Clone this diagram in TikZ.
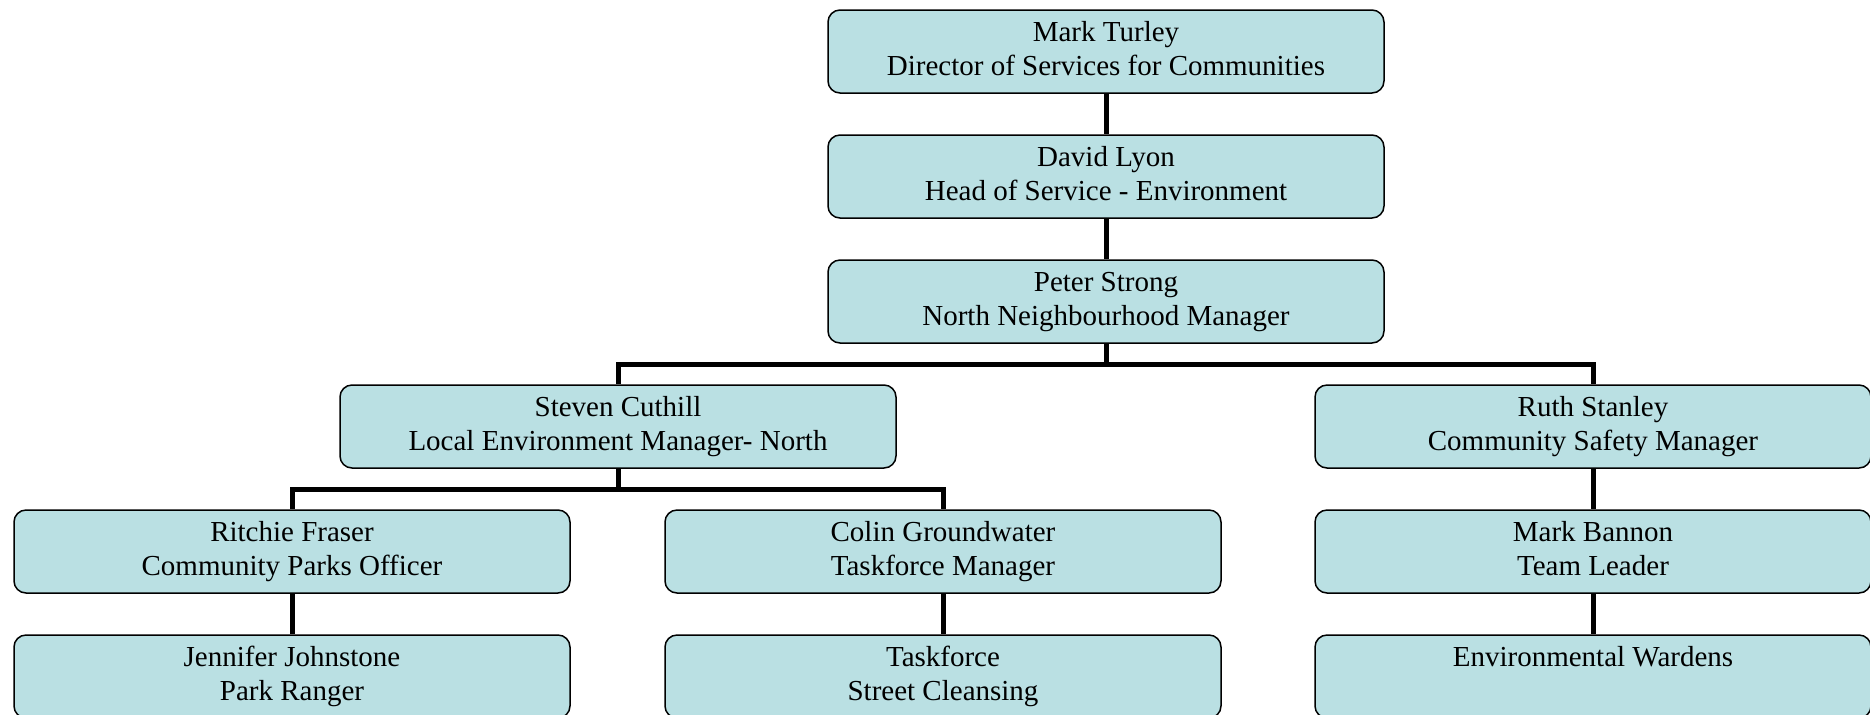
\documentclass[tikz,border=0pt]{standalone}
\usepackage{fontspec}
\setmainfont{Liberation Serif}
\usepackage{tikz}
\definecolor{boxfill}{RGB}{186,224,227}
\newcommand{\card}[2]{\strut #1\\\strut #2}
\tikzset{
	staff/.style={rectangle, rounded corners=6pt, draw, line width=0.75pt, fill=boxfill, minimum width=278pt, minimum height=41.5pt, inner sep=0pt, align=center, font=\fontsize{14.5}{17.1}\selectfont},
	link/.style={line width=2.5pt}
}

\begin{document}
\begin{tikzpicture}[x=0.5pt, y=0.5pt]
		\useasboundingbox (0,0) rectangle (1870,-714);
		
		% Management chain
		\node[staff] (Turley) at (1106,-51.5) {\card{Mark Turley}{Director of Services for Communities}};
		\node[staff] (Lyon)   at (1106,-176.5) {\card{David Lyon}{Head of Service - Environment}};
		\node[staff] (Strong) at (1106,-301.5) {\card{Peter Strong}{North Neighbourhood Manager}};
		
		% Second level
		\node[staff] (Cuthill) at (618,-426.5) {\card{Steven Cuthill}{Local Environment Manager- North}};
		\node[staff] (Stanley) at (1593,-426.5) {\card{Ruth Stanley}{Community Safety Manager}};
		
		% Third level
		\node[staff] (Fraser) at (292,-551.5) {\card{Ritchie Fraser}{Community Parks Officer}};
		\node[staff] (Groundwater) at (943,-551.5) {\card{Colin Groundwater}{Taskforce Manager}};
		\node[staff] (Bannon) at (1593,-551.5) {\card{Mark Bannon}{Team Leader}};
		
		% Bottom row
		\node[staff] (Johnstone) at (292,-676.5) {\card{Jennifer Johnstone}{Park Ranger}};
		\node[staff] (Taskforce) at (943,-676.5) {\card{Taskforce}{Street Cleansing}};
		\node[staff] (Wardens) at (1593,-676.5) {\card{Environmental Wardens}{}};
		
		% Links
		\draw[link] (Turley) -- (Lyon);
		\draw[link] (Lyon) -- (Strong);
		\draw[link] (Strong.south) -- ++(0,-21) -| (Cuthill.north);
		\draw[link] (Strong.south) -- ++(0,-21) -| (Stanley.north);
		\draw[link] (Cuthill.south) -- ++(0,-21) -| (Fraser.north);
		\draw[link] (Cuthill.south) -- ++(0,-21) -| (Groundwater.north);
		\draw[link] (Stanley) -- (Bannon);
		\draw[link] (Fraser) -- (Johnstone);
		\draw[link] (Groundwater) -- (Taskforce);
		\draw[link] (Bannon) -- (Wardens);
		
	\end{tikzpicture}
\end{document}
